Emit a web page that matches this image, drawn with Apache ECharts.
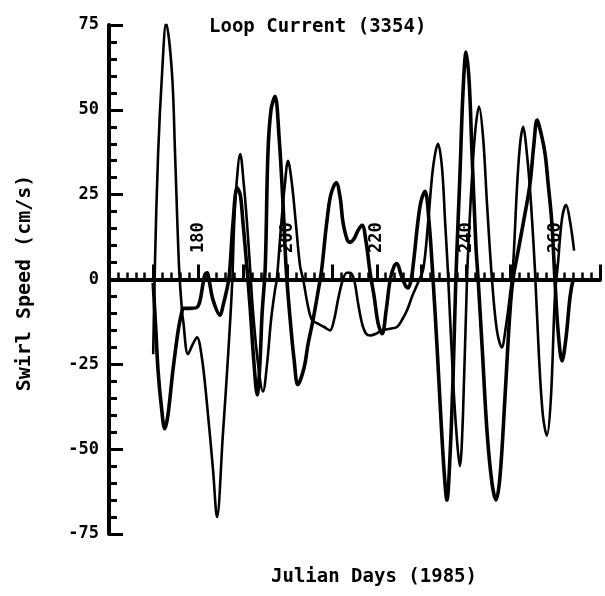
<!DOCTYPE html>
<html>
<head>
<meta charset="utf-8">
<script src="https://cdn.jsdelivr.net/npm/echarts@6/dist/echarts.min.js"></script>
<style>
  html, body { margin: 0; padding: 0; background: #fff; }
  #chart { width: 605px; height: 596px; }
</style>
</head>
<body>
<div id="chart"></div>
<script>
// Julian day / swirl speed pairs for the two velocity traces (cm/s)
const thinDays = [169.9,170.3,171.0,171.9,172.8,174.1,174.8,175.7,176.4,176.6,177.7,178.8,179.7,180.8,181.9,183.3,184.2,185.5,186.7,187.6,188.0,188.5,189.4,190.2,190.9,191.6,192.3,193.4,194.5,195.4,196.3,197.2,197.6,198.5,199.4,200.1,201.0,201.9,202.8,203.5,204.6,205.5,206.8,208.2,209.5,210.4,211.3,212.4,213.3,214.0,214.9,215.8,216.7,217.6,218.5,219.8,221.2,223.0,224.5,225.6,226.8,227.9,229.2,230.4,231.5,232.6,233.7,234.6,235.3,235.9,237.1,238.0,238.6,239.3,240.2,241.1,242.0,242.9,243.8,244.7,245.8,246.9,248.0,248.9,249.8,250.5,251.4,252.1,252.8,253.4,254.3,255.4,256.3,257.2,258.1,259.0,259.9,260.6,261.5,262.4,263.3,264.2];
const thinSpeed = [-22,5,37,61,75.5,61,37,3.5,-10,-12,-22,-19,-17,-23,-36,-56,-70,-46,-22,-1,15,27,37,28,17,3.5,-10,-25,-33,-25,-12,-3,0,15,28,35,28,16,4,0,-8,-12,-13,-14,-15,-12,-6,0,2,2,0,-7,-13,-16,-16.5,-16,-15,-14.5,-14,-12,-9,-5,-1,3,17,33,40,33,17,3,-30,-48,-55,-40,0,25,43,51,42,22,0,-15,-20,-14,-5,3.5,27,40,45,40,27,3.5,-22,-40,-46,-35,-5,5,18,22,17,8.5];

const thickDays = [169.9,170.5,171.0,171.7,172.5,173.2,174.3,175.5,176.4,176.6,178.2,179.9,181.1,181.5,182.0,182.4,183.3,184.9,185.5,186.7,187.1,187.8,188.7,189.4,190.0,190.9,191.6,192.5,193.2,193.8,194.3,195.0,195.6,196.3,197.2,198.1,199.0,199.7,200.6,201.5,202.3,203.7,204.6,205.7,207.3,207.7,208.8,209.7,210.9,211.8,212.4,213.3,214.0,214.9,215.8,216.7,217.6,218.5,219.4,220.3,221.2,222.1,223.0,223.9,224.5,225.4,226.3,227.0,227.7,228.3,229.2,229.9,230.8,231.7,232.6,233.5,234.4,235.1,235.7,236.4,237.1,237.7,238.6,239.3,240.0,240.7,241.3,242.2,242.7,243.6,244.7,245.8,246.7,247.6,248.7,249.8,250.5,251.6,253.0,254.3,255.2,255.9,256.8,257.7,258.4,259.2,259.9,260.6,261.5,262.4,263.3,264.0];
const thickSpeed = [-1,-15,-27,-37,-44,-40,-27,-15,-9,-8.5,-8.5,-8,-1,1.5,2,0,-6,-10.5,-8,-1,3.5,17,27,25,17,3.5,-8,-25,-34,-25,-10,3.5,37,50,54,42,22,3,-12,-24,-31,-26,-19,-12,0,3.5,17,25,28.5,24,17,12,11,12,14.5,16,11,2,-5,-13,-16,-9,0,4,4.7,1.5,-1.5,-2.5,0,6,17,23,26,17,0,-20,-42,-57,-65,-52,-28,0,30,55,67,58,38,10,0,-20,-45,-60,-65,-58,-35,-10,0,8,18,28,40,47,43,37,28,17,0,-15,-24,-17,-5,0];

// axis labelling
const dayLabels = [180, 200, 220, 240, 260];
const speedLabels = [-75, -50, -25, 0, 25, 50, 75];

const titleText = 'Loop Current (3354)';
const xTitle = 'Julian Days (1985)';
const yTitle = 'Swirl Speed (cm/s)';

const FONT = '"DejaVu Sans Mono", "Liberation Mono", monospace';

function pairs(xs, ys) {
  return xs.map((d, i) => [d, ys[i]]);
}

const chart = echarts.init(document.getElementById('chart'), null, { renderer: 'canvas' });

chart.setOption({
  animation: false,
  backgroundColor: '#ffffff',
  title: {
    text: titleText,
    left: 204,
    top: 13,
    textStyle: { fontFamily: FONT, fontWeight: 'bold', fontSize: 19, color: '#000' }
  },
  grid: { left: 109, top: 25, width: 491, height: 509, containLabel: false },
  xAxis: {
    type: 'value',
    min: 160,
    max: 270,
    interval: 10,
    axisLine: { onZero: true, lineStyle: { color: '#000', width: 4 } },
    axisTick: { show: true, inside: true, length: 15, lineStyle: { color: '#000', width: 3 } },
    minorTick: { show: true, splitNumber: 5, length: 7, lineStyle: { color: '#000', width: 2.5 } },
    splitLine: { show: false },
    minorSplitLine: { show: false },
    axisLabel: {
      // day labels sit just above the zero line, reading upward
      inside: true,
      rotate: 90,
      margin: 281,
      color: '#000',
      fontFamily: FONT,
      fontWeight: 'bold',
      fontSize: 17,
      showMinLabel: false,
      formatter: v => (dayLabels.indexOf(v) >= 0 ? String(v) : '')
    }
  },
  yAxis: {
    type: 'value',
    min: -75,
    max: 75,
    interval: 25,
    axisLine: { show: true, onZero: false, lineStyle: { color: '#000', width: 4 } },
    axisTick: { show: true, inside: true, length: 14, lineStyle: { color: '#000', width: 3 } },
    minorTick: { show: true, splitNumber: 5, length: 8, lineStyle: { color: '#000', width: 3 } },
    splitLine: { show: false },
    minorSplitLine: { show: false },
    axisLabel: {
      margin: 10,
      color: '#000',
      fontFamily: FONT,
      fontWeight: 'bold',
      fontSize: 17,
      formatter: v => (speedLabels.indexOf(v) >= 0 ? String(v) : '')
    }
  },
  graphic: [
    {
      type: 'text',
      x: 374,
      y: 577,
      style: {
        text: xTitle,
        font: 'bold 19px ' + FONT,
        fill: '#000',
        align: 'center',
        verticalAlign: 'middle',
        textAlign: 'center',
        textVerticalAlign: 'middle'
      }
    },
    {
      type: 'text',
      x: 25,
      y: 283,
      rotation: Math.PI / 2,
      style: {
        text: yTitle,
        font: 'bold 20px ' + FONT,
        fill: '#000',
        align: 'center',
        verticalAlign: 'middle',
        textAlign: 'center',
        textVerticalAlign: 'middle'
      }
    }
  ],
  series: [
    {
      type: 'line',
      data: pairs(thinDays, thinSpeed),
      showSymbol: false,
      smooth: 0.35,
      lineStyle: { color: '#000', width: 2.6 },
      z: 3
    },
    {
      type: 'line',
      data: pairs(thickDays, thickSpeed),
      showSymbol: false,
      smooth: 0.35,
      lineStyle: { color: '#000', width: 3.6 },
      z: 3
    }
  ]
});
</script>
</body>
</html>
